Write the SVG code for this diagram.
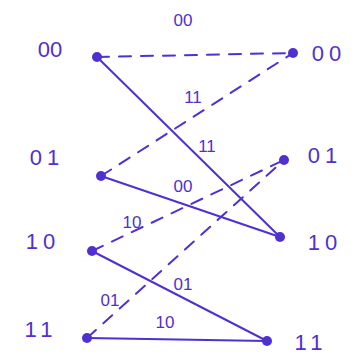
<svg xmlns="http://www.w3.org/2000/svg" width="361" height="358" viewBox="0 0 361 358">
<style>
.st{font-family:"Liberation Sans",Arial,sans-serif;font-size:22px;fill:#5030d0;text-anchor:middle}
.sp{letter-spacing:5px}
.el{font-family:"Liberation Sans",Arial,sans-serif;font-size:17px;fill:#5030d0;text-anchor:middle}
.sol{stroke:#5030d0;stroke-width:2;fill:none;stroke-linecap:round}
.dash{stroke:#5030d0;stroke-width:2;fill:none;stroke-dasharray:12 10;stroke-linecap:round}
.dot{fill:#5030d0}
</style>
<rect width="361" height="358" fill="#ffffff"/>
<g id="connectors">
<line class="dash" x1="97" y1="57" x2="293" y2="53"/>
<line class="sol" x1="97" y1="57" x2="280" y2="237"/>
<line class="dash" x1="101" y1="176" x2="293" y2="53"/>
<line class="sol" x1="101" y1="176" x2="280" y2="237"/>
<line class="dash" x1="92" y1="251" x2="284" y2="160"/>
<line class="sol" x1="92" y1="251" x2="267" y2="341"/>
<line class="dash" x1="87" y1="338" x2="284" y2="160"/>
<line class="sol" x1="87" y1="338" x2="267" y2="341"/>
<text class="el" x="183" y="26">00</text>
<text class="el" x="193" y="103">11</text>
<text class="el" x="207" y="152">11</text>
<text class="el" x="183" y="192">00</text>
<text class="el" x="132" y="228">10</text>
<text class="el" x="183" y="290">01</text>
<text class="el" x="110" y="306">01</text>
<text class="el" x="165" y="328">10</text>
</g>
<g id="L00"><circle class="dot" cx="97" cy="57" r="5"/><text class="st" x="50" y="57">00</text></g>
<g id="L01"><circle class="dot" cx="101" cy="176" r="5"/><text class="st sp" x="47" y="165">01</text></g>
<g id="L10"><circle class="dot" cx="92" cy="251" r="5"/><text class="st sp" x="43" y="249">10</text></g>
<g id="L11"><circle class="dot" cx="87" cy="338" r="5"/><text class="st sp" x="41" y="337">11</text></g>
<g id="R00"><circle class="dot" cx="293" cy="53" r="5"/><text class="st sp" x="329" y="61">00</text></g>
<g id="R01"><circle class="dot" cx="284" cy="160" r="5"/><text class="st sp" x="325" y="163">01</text></g>
<g id="R10"><circle class="dot" cx="280" cy="237" r="5"/><text class="st sp" x="325" y="250">10</text></g>
<g id="R11"><circle class="dot" cx="267" cy="341" r="5"/><text class="st sp" x="311" y="350">11</text></g>
</svg>
